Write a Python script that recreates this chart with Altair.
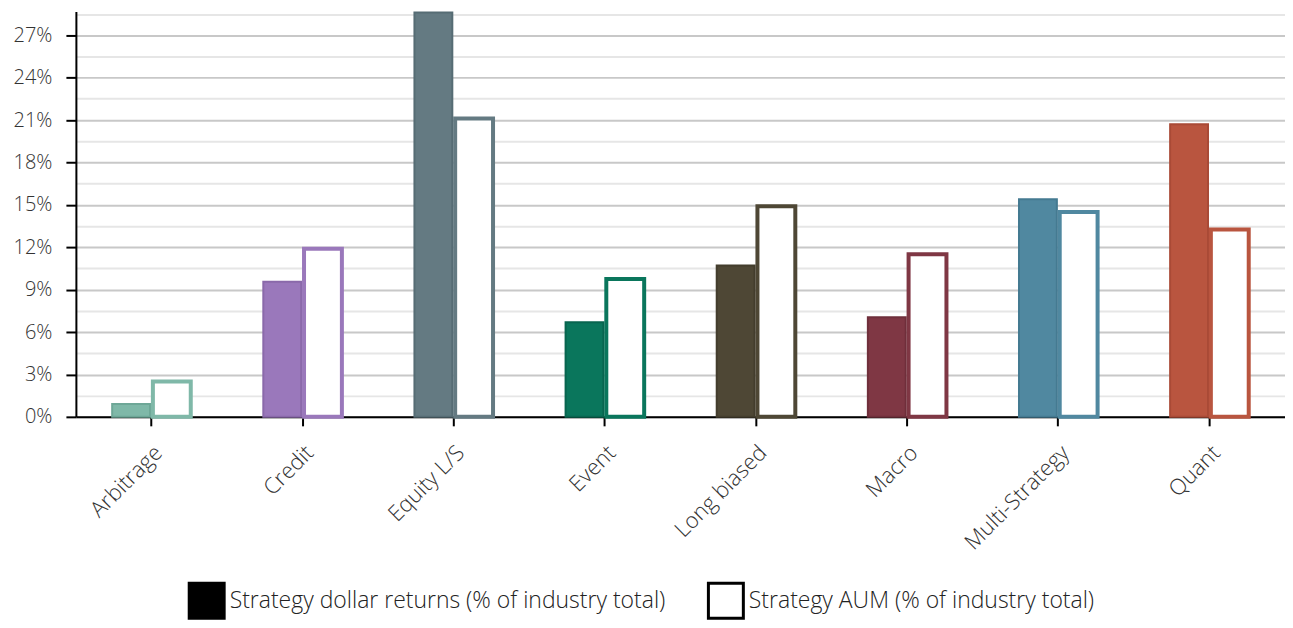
import altair as alt
import pandas as pd

categories = ["Arbitrage", "Credit", "Equity L/S", "Event", "Long biased",
              "Macro", "Multi-Strategy", "Quant"]
returns_pct = [0.9, 9.55, 28.6, 6.7, 10.7, 7.05, 15.4, 20.7]
aum_pct = [2.5, 11.9, 21.1, 9.75, 14.9, 11.5, 14.5, 13.25]
series_names = ["Strategy dollar returns (% of industry total)",
                "Strategy AUM (% of industry total)"]
colors = ["#7fb8a8", "#9a78bb", "#647a82", "#0a765c", "#4e4735",
          "#7f3744", "#5088a0", "#b9553f"]
edge_colors = ["#6ea797", "#8a69aa", "#566c74", "#08654f", "#433d2d",
               "#6f2f3b", "#447a91", "#a94a36"]
grid_values = [0, 0.015, 0.03, 0.045, 0.06, 0.075, 0.09, 0.105, 0.12, 0.135,
               0.15, 0.165, 0.18, 0.195, 0.21, 0.225, 0.24, 0.255, 0.27, 0.285]

rows = []
for c, r, a in zip(categories, returns_pct, aum_pct):
    rows.append({"category": c, "series": series_names[0], "value": r / 100})
    rows.append({"category": c, "series": series_names[1], "value": a / 100})
df = pd.DataFrame(rows)

FONT = "Open Sans"
MAJOR = "round(datum.value*1000) % 30 === 0"

x_enc = alt.X("category:N", sort=categories, title=None,
              scale=alt.Scale(paddingInner=0.48, paddingOuter=0.24),
              axis=alt.Axis(labelAngle=-45, labelFontSize=22, labelFont=FONT,
                            labelFontWeight=300, labelColor="#333333",
                            domainColor="black", domainWidth=2,
                            tickColor="black", tickWidth=2, tickSize=9,
                            labelPadding=16, grid=False))
xoff_enc = alt.XOffset("series:N", scale=alt.Scale(domain=series_names, paddingInner=0.07))
y_enc = alt.Y("value:Q", title=None,
              scale=alt.Scale(domain=[0, 0.2868], nice=False),
              axis=alt.Axis(values=grid_values, format=".0%",
                            labelExpr="(" + MAJOR + ") ? datum.label : ''",
                            labelFontSize={"condition": {"test": MAJOR, "value": 20}, "value": 1},
                            labelFont=FONT, labelFontWeight=300,
                            labelColor="#333333", labelPadding=14,
                            domainColor="black", domainWidth=2,
                            tickColor="black", tickWidth=2, tickSize=10,
                            tickOpacity={"condition": {"test": MAJOR, "value": 1}, "value": 0},
                            gridColor={"condition": {"test": MAJOR, "value": "#c8c8c8"}, "value": "#e6e6e6"},
                            gridWidth=2))

base = alt.Chart(df).encode(x=x_enc, xOffset=xoff_enc, y=y_enc)

returns_layer = base.transform_filter(
    alt.datum.series == series_names[0]
).mark_bar(strokeWidth=2).encode(
    fill=alt.Fill("category:N", scale=alt.Scale(domain=categories, range=colors), legend=None),
    stroke=alt.Stroke("category:N", scale=alt.Scale(domain=categories, range=edge_colors), legend=None),
)

aum_layer = base.transform_filter(
    alt.datum.series == series_names[1]
).mark_bar(fill="white", strokeWidth=4).encode(
    stroke=alt.Stroke("category:N", scale=alt.Scale(domain=categories, range=colors), legend=None),
)

legend_layer = alt.Chart(df).mark_square(size=0, filled=True, opacity=1, stroke="black", strokeWidth=3).encode(
    fill=alt.Fill("series:N",
                  scale=alt.Scale(domain=series_names, range=["black", "white"]),
                  legend=alt.Legend(orient="none", legendX=112, legendY=571,
                                    direction="horizontal", title=None,
                                    symbolType="square", symbolSize=1225,
                                    symbolOpacity=1,
                                    symbolStrokeColor="black", symbolStrokeWidth=3,
                                    labelFontSize=23, labelFont=FONT, labelFontWeight=300,
                                    labelColor="#222222", labelLimit=700,
                                    columnPadding=36, labelOffset=4)),
)

chart = alt.layer(returns_layer, aum_layer, legend_layer).resolve_scale(
    fill="independent", stroke="independent"
).properties(
    width=1211, height=406,
    padding={"top": 3, "left": 5, "right": 0, "bottom": 0},
).configure_view(stroke=None)

chart.save("out.html", embed_options={"renderer": "svg", "actions": False})
